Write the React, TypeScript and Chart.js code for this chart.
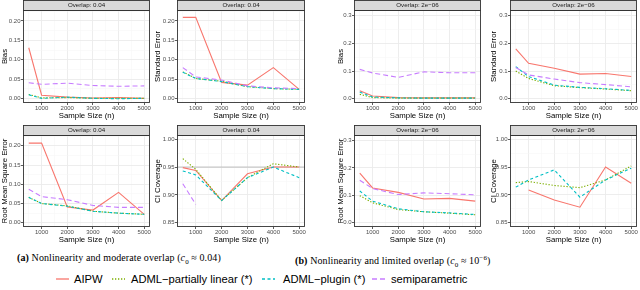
import React, { useEffect, useRef } from 'react';
import { Chart, registerables } from 'chart.js';

Chart.register(...registerables);
Chart.defaults.font.family = "'Liberation Sans', Arial, sans-serif";

// ---------- shared axis data ----------
const SAMPLE_SIZES = [500, 1000, 2000, 3000, 4000, 5000];
const X_TICKS = [1000, 2000, 3000, 4000, 5000];
const X_TICK_LABELS = ['1000', '2000', '3000', '4000', '5000'];
const X_MINOR = [500, 1500, 2500, 3500, 4500];

const SERIES_NAMES = ['AIPW', 'ADML\u2212partially linear (*)', 'ADML\u2212plugin (*)', 'semiparametric'];
const SERIES_COLORS = ['#F8766D', '#7CAE00', '#00BFC4', '#C77CFF'];
const SERIES_DASHES: number[][] = [[], [1.3, 1.7], [3, 2.5], [5, 3]];

const Y_TICKS_A = [0, 0.05, 0.1, 0.15, 0.2];
const Y_LABELS_A = ['0.00', '0.05', '0.10', '0.15', '0.20'];
const Y_MINOR_A = [0.025, 0.075, 0.125, 0.175, 0.225];
const Y_TICKS_B = [0, 0.1, 0.2, 0.3];
const Y_LABELS_B = ['0.0', '0.1', '0.2', '0.3'];
const Y_MINOR_B = [0.05, 0.15, 0.25];
const CI_TICKS = [0.85, 0.9, 0.95, 1.0];
const CI_LABELS = ['0.85', '0.90', '0.95', '1.00'];
const CI_MINOR = [0.875, 0.925, 0.975];
const CI_TARGET = 0.95;

// ---------- (a) moderate overlap ----------
const AIPW_BIAS_A = [0.131, 0.009, 0.004, 0.002, 0.003, 0.001];
const PL_BIAS_A = [0.011, 0.002, 0.003, 0.001, 0.001, 0.001];
const PLUGIN_BIAS_A = [0.010, 0.001, 0.004, 0.001, 0.0, 0.001];
const SEMI_BIAS_A = [0.041, 0.037, 0.040, 0.034, 0.032, 0.033];

const AIPW_SE_A = [0.209, 0.209, 0.042, 0.035, 0.080, 0.024];
const PL_SE_A = [0.069, 0.052, 0.045, 0.031, 0.026, 0.024];
const PLUGIN_SE_A = [0.068, 0.052, 0.044, 0.031, 0.026, 0.024];
const SEMI_SE_A = [0.080, 0.056, 0.048, 0.033, 0.028, 0.026];

const AIPW_RMSE_A = [0.207, 0.207, 0.041, 0.033, 0.079, 0.022];
const PL_RMSE_A = [0.066, 0.050, 0.044, 0.030, 0.025, 0.022];
const PLUGIN_RMSE_A = [0.066, 0.050, 0.043, 0.030, 0.025, 0.022];
const SEMI_RMSE_A = [0.087, 0.068, 0.060, 0.045, 0.040, 0.040];

const AIPW_CI_A = [0.949, 0.944, 0.890, 0.938, 0.950, 0.950];
const PL_CI_A = [0.965, 0.946, 0.890, 0.931, 0.956, 0.950];
const PLUGIN_CI_A = [0.943, 0.936, 0.890, 0.931, 0.950, 0.931];
const SEMI_CI_A = [0.920, 0.883, null, null, null, null];

// ---------- (b) limited overlap ----------
const AIPW_BIAS_B = [0.029, 0.010, 0.004, 0.003, 0.003, 0.003];
const PL_BIAS_B = [0.016, 0.004, 0.002, 0.002, 0.002, 0.002];
const PLUGIN_BIAS_B = [0.024, 0.006, 0.003, 0.002, 0.002, 0.002];
const SEMI_BIAS_B = [0.106, 0.093, 0.077, 0.097, 0.094, 0.094];

const AIPW_SE_B = [0.180, 0.128, 0.110, 0.089, 0.091, 0.080];
const PL_SE_B = [0.100, 0.073, 0.047, 0.040, 0.035, 0.029];
const PLUGIN_SE_B = [0.116, 0.080, 0.049, 0.041, 0.036, 0.030];
const SEMI_SE_B = [0.113, 0.086, 0.071, 0.058, 0.051, 0.043];

const AIPW_RMSE_B = [0.181, 0.127, 0.111, 0.087, 0.089, 0.079];
const PL_RMSE_B = [0.099, 0.073, 0.048, 0.040, 0.035, 0.029];
const PLUGIN_RMSE_B = [0.116, 0.079, 0.051, 0.040, 0.036, 0.030];
const SEMI_RMSE_B = [0.155, 0.125, 0.103, 0.109, 0.106, 0.102];

const AIPW_CI_B = [null, 0.909, 0.891, 0.878, 0.950, 0.921];
const PL_CI_B = [0.922, 0.924, 0.917, 0.913, 0.927, 0.952];
const PLUGIN_CI_B = [0.914, 0.927, 0.945, 0.896, 0.927, 0.948];
const SEMI_CI_B = [null, null, null, null, null, null];

const STRIP_A = 'Overlap: 0.04';
const STRIP_B = 'Overlap: 2e\u221206';

type Vals = (number | null)[];

type PanelProps = {
  left: number; top: number; width: number; height: number;
  yAxisWidth: number; xAxisHeight: number; rightPad: number;
  strip: string; yTitle: string; yMin: number; yMax: number;
  yTicks: number[]; yLabels: string[]; yMinor: number[];
  series: Vals[]; refLine?: number | null;
};

const near = (a: number, b: number) => Math.abs(a - b) < 1e-9;
const STRIP_H = 10;

const decoPlugin = {
  id: 'panelDeco',
  beforeDatasetsDraw(chart: any, _args: any, opts: any) {
    const { ctx, chartArea: a } = chart;
    if (opts.refLine != null) {
      const y = chart.scales.y.getPixelForValue(opts.refLine);
      ctx.save();
      ctx.strokeStyle = '#BEBEBE';
      ctx.lineWidth = 1;
      ctx.beginPath();
      ctx.moveTo(a.left, y);
      ctx.lineTo(a.right, y);
      ctx.stroke();
      ctx.restore();
    }
  },
  afterDatasetsDraw(chart: any, _args: any, opts: any) {
    const { ctx, chartArea: a } = chart;
    ctx.save();
    ctx.strokeStyle = '#333333';
    ctx.lineWidth = 0.9;
    ctx.strokeRect(a.left + 0.5, a.top + 0.5, a.right - a.left - 1, a.bottom - a.top - 1);
    ctx.fillStyle = '#D9D9D9';
    ctx.fillRect(a.left, a.top - STRIP_H, a.right - a.left, STRIP_H);
    ctx.strokeRect(a.left + 0.5, a.top - STRIP_H + 0.5, a.right - a.left - 1, STRIP_H);
    ctx.fillStyle = '#1A1A1A';
    ctx.font = "6.2px 'Liberation Sans', Arial, sans-serif";
    ctx.textAlign = 'center';
    ctx.textBaseline = 'middle';
    ctx.fillText(opts.strip, (a.left + a.right) / 2, a.top - STRIP_H / 2 + 0.5);
    ctx.restore();
  },
};

function Panel(p: PanelProps) {
  const ref = useRef<HTMLCanvasElement>(null);
  useEffect(() => {
    const canvas = ref.current!;
    const xAll = [...X_MINOR, ...X_TICKS].sort((a, b) => a - b);
    const yAll = [...p.yMinor, ...p.yTicks].filter((v) => v >= p.yMin && v <= p.yMax).sort((a, b) => a - b);
    const isMajX = (v: number) => X_TICKS.some((t) => near(t, v));
    const isMajY = (v: number) => p.yTicks.some((t) => near(t, v));
    const chart = new Chart(canvas, {
      type: 'line',
      data: {
        datasets: p.series.map((vals, i) => ({
          label: SERIES_NAMES[i],
          data: SAMPLE_SIZES.map((x, j) => ({ x, y: vals[j] })),
          borderColor: SERIES_COLORS[i],
          backgroundColor: SERIES_COLORS[i],
          borderWidth: 1.1,
          borderDash: SERIES_DASHES[i],
          pointRadius: 0,
          fill: false,
          tension: 0,
          order: 3 - i,
        })),
      } as any,
      options: {
        responsive: false,
        animation: false,
        devicePixelRatio: 1,
        layout: { padding: { top: STRIP_H, right: p.rightPad, left: 0, bottom: 0 } },
        plugins: {
          legend: { display: false },
          tooltip: { enabled: false },
          panelDeco: { strip: p.strip, refLine: p.refLine ?? null },
        } as any,
        scales: {
          x: {
            type: 'linear',
            min: 275,
            max: 5225,
            afterBuildTicks: (s: any) => { s.ticks = xAll.map((v) => ({ value: v })); },
            afterFit: (s: any) => {
              s.height = p.xAxisHeight;
              s.paddingLeft = 0; s.paddingRight = 0;
            },
            ticks: {
              autoSkip: false,
              maxRotation: 0,
              padding: 0,
              color: '#4D4D4D',
              font: { size: 6 },
              callback: (v: any) => {
                const i = X_TICKS.findIndex((t) => near(t, Number(v)));
                return i >= 0 ? X_TICK_LABELS[i] : '';
              },
            },
            grid: {
              color: (c: any) => (c.tick && isMajX(c.tick.value) ? '#EBEBEB' : '#F4F4F4'),
              lineWidth: (c: any) => (c.tick && isMajX(c.tick.value) ? 0.9 : 0.5),
              tickColor: (c: any) => (c.tick && isMajX(c.tick.value) ? '#333333' : 'rgba(0,0,0,0)'),
              tickLength: 2,
              tickWidth: 0.8,
            },
            border: { display: false },
            title: { display: true, text: 'Sample Size (n)', color: '#000', font: { size: 7.8 }, padding: 0 },
          },
          y: {
            type: 'linear',
            min: p.yMin,
            max: p.yMax,
            afterBuildTicks: (s: any) => { s.ticks = yAll.map((v) => ({ value: v })); },
            afterFit: (s: any) => {
              s.width = p.yAxisWidth;
              s.paddingTop = 0; s.paddingBottom = 0;
            },
            ticks: {
              autoSkip: false,
              padding: 0.5,
              color: '#4D4D4D',
              font: { size: 6 },
              callback: (v: any) => {
                const i = p.yTicks.findIndex((t) => near(t, Number(v)));
                return i >= 0 ? p.yLabels[i] : '';
              },
            },
            grid: {
              color: (c: any) => (c.tick && isMajY(c.tick.value) ? '#EBEBEB' : '#F4F4F4'),
              lineWidth: (c: any) => (c.tick && isMajY(c.tick.value) ? 0.9 : 0.5),
              tickColor: (c: any) => (c.tick && isMajY(c.tick.value) ? '#333333' : 'rgba(0,0,0,0)'),
              tickLength: 2,
              tickWidth: 0.8,
            },
            border: { display: false },
            title: { display: true, text: p.yTitle, color: '#000', font: { size: 7.8 }, padding: 0 },
          },
        },
      } as any,
      plugins: [decoPlugin as any],
    });
    return () => chart.destroy();
  }, []);
  return (
    <canvas
      ref={ref}
      width={p.width}
      height={p.height}
      style={{ position: 'absolute', left: p.left, top: p.top, width: p.width, height: p.height }}
    />
  );
}

const RANGE_A: [number, number] = [-0.011, 0.228];
const RANGE_B: [number, number] = [-0.0155, 0.3205];
const RANGE_CI: [number, number] = [0.8425, 1.0075];

const COLS = {
  a1: { left: 0, width: 152, yAxisWidth: 23, rightPad: 2 },
  a2: { left: 153, width: 154, yAxisWidth: 24, rightPad: 2 },
  b1: { left: 336, width: 147, yAxisWidth: 18, rightPad: 2 },
  b2: { left: 489, width: 150, yAxisWidth: 21, rightPad: 2 },
};
const ROWS = {
  r1: { top: 0, height: 121, xAxisHeight: 18 },
  r2: { top: 125, height: 120, xAxisHeight: 18 },
};

function LegendKey({ left, color, dash }: { left: number; color: string; dash: number[] }) {
  return (
    <svg style={{ position: 'absolute', left, top: 274 }} width={13} height={10}>
      <line x1={0} y1={5} x2={13} y2={5} stroke={color} strokeWidth={1.3} strokeDasharray={dash.length ? dash.join(' ') : undefined} />
    </svg>
  );
}

export default function App() {
  const captionStyle: React.CSSProperties = {
    position: 'absolute', top: 251, fontFamily: "'Liberation Serif', 'Times New Roman', serif",
    fontSize: 10, letterSpacing: 0.1, color: '#000', whiteSpace: 'nowrap', lineHeight: '14px',
  };
  const legendText: React.CSSProperties = {
    position: 'absolute', top: 271, fontFamily: "'Liberation Sans', Arial, sans-serif",
    fontSize: 11.2, color: '#000', whiteSpace: 'nowrap', lineHeight: '16px',
  };
  const keyLefts = [56, 112, 262, 372];
  const textLefts = [74, 131, 283, 391];
  return (
    <div style={{ position: 'fixed', left: 0, top: 0, width: 640, height: 290, background: '#fff', overflow: 'hidden' }}>
      <Panel {...COLS.a1} {...ROWS.r1} strip={STRIP_A} yTitle="Bias" yMin={RANGE_A[0]} yMax={RANGE_A[1]}
        yTicks={Y_TICKS_A} yLabels={Y_LABELS_A} yMinor={Y_MINOR_A}
        series={[AIPW_BIAS_A, PL_BIAS_A, PLUGIN_BIAS_A, SEMI_BIAS_A]} />
      <Panel {...COLS.a2} {...ROWS.r1} strip={STRIP_A} yTitle="Standard Error" yMin={RANGE_A[0]} yMax={RANGE_A[1]}
        yTicks={Y_TICKS_A} yLabels={Y_LABELS_A} yMinor={Y_MINOR_A}
        series={[AIPW_SE_A, PL_SE_A, PLUGIN_SE_A, SEMI_SE_A]} />
      <Panel {...COLS.a1} {...ROWS.r2} strip={STRIP_A} yTitle="Root Mean Square Error" yMin={RANGE_A[0]} yMax={RANGE_A[1]}
        yTicks={Y_TICKS_A} yLabels={Y_LABELS_A} yMinor={Y_MINOR_A}
        series={[AIPW_RMSE_A, PL_RMSE_A, PLUGIN_RMSE_A, SEMI_RMSE_A]} />
      <Panel {...COLS.a2} {...ROWS.r2} strip={STRIP_A} yTitle="CI Coverage" yMin={RANGE_CI[0]} yMax={RANGE_CI[1]}
        yTicks={CI_TICKS} yLabels={CI_LABELS} yMinor={CI_MINOR} refLine={CI_TARGET}
        series={[AIPW_CI_A, PL_CI_A, PLUGIN_CI_A, SEMI_CI_A]} />

      <Panel {...COLS.b1} {...ROWS.r1} strip={STRIP_B} yTitle="Bias" yMin={RANGE_B[0]} yMax={RANGE_B[1]}
        yTicks={Y_TICKS_B} yLabels={Y_LABELS_B} yMinor={Y_MINOR_B}
        series={[AIPW_BIAS_B, PL_BIAS_B, PLUGIN_BIAS_B, SEMI_BIAS_B]} />
      <Panel {...COLS.b2} {...ROWS.r1} strip={STRIP_B} yTitle="Standard Error" yMin={RANGE_B[0]} yMax={RANGE_B[1]}
        yTicks={Y_TICKS_B} yLabels={Y_LABELS_B} yMinor={Y_MINOR_B}
        series={[AIPW_SE_B, PL_SE_B, PLUGIN_SE_B, SEMI_SE_B]} />
      <Panel {...COLS.b1} {...ROWS.r2} strip={STRIP_B} yTitle="Root Mean Square Error" yMin={RANGE_B[0]} yMax={RANGE_B[1]}
        yTicks={Y_TICKS_B} yLabels={Y_LABELS_B} yMinor={Y_MINOR_B}
        series={[AIPW_RMSE_B, PL_RMSE_B, PLUGIN_RMSE_B, SEMI_RMSE_B]} />
      <Panel {...COLS.b2} {...ROWS.r2} strip={STRIP_B} yTitle="CI Coverage" yMin={RANGE_CI[0]} yMax={RANGE_CI[1]}
        yTicks={CI_TICKS} yLabels={CI_LABELS} yMinor={CI_MINOR}
        series={[AIPW_CI_B, PL_CI_B, PLUGIN_CI_B, SEMI_CI_B]} />

      <div style={{ ...captionStyle, left: 17 }}>
        <b>(a)</b> Nonlinearity and moderate overlap (<i>c</i><sub style={{ fontSize: 7 }}>0</sub> ≈ 0.04)
      </div>
      <div style={{ ...captionStyle, left: 295 }}>
        <b>(b)</b> Nonlinearity and limited overlap (<i>c</i><sub style={{ fontSize: 7 }}>0</sub> ≈ 10<sup style={{ fontSize: 7 }}>−6</sup>)
      </div>

      {SERIES_NAMES.map((name, i) => (
        <React.Fragment key={name}>
          <LegendKey left={keyLefts[i]} color={SERIES_COLORS[i]} dash={SERIES_DASHES[i]} />
          <div style={{ ...legendText, left: textLefts[i] }}>{name}</div>
        </React.Fragment>
      ))}
    </div>
  );
}
